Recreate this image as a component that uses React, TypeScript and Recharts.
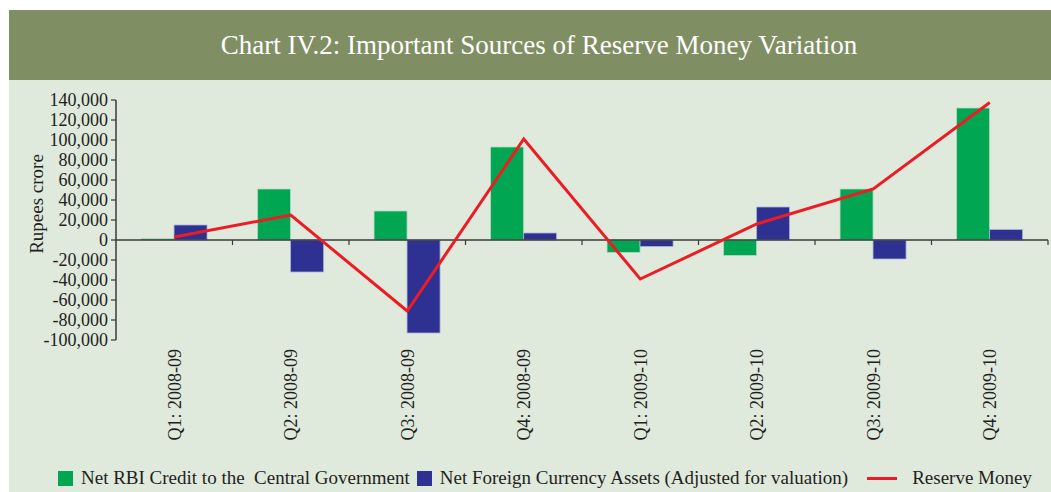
import React from 'react';
import { ComposedChart, Bar, Line, XAxis, YAxis, ReferenceLine } from 'recharts';

const quarters = [
  'Q1: 2008-09',
  'Q2: 2008-09',
  'Q3: 2008-09',
  'Q4: 2008-09',
  'Q1: 2009-10',
  'Q2: 2009-10',
  'Q3: 2009-10',
  'Q4: 2009-10',
];
const netRbiCredit = [1200, 51000, 29000, 93000, -12500, -15500, 51000, 132000];
const netForeignAssets = [15000, -32000, -93000, 7000, -6500, 33000, -19000, 10500];
const reserveMoney = [3000, 25000, -71000, 101000, -39000, 16000, 51000, 137500];
const yTicks = [-100000, -80000, -60000, -40000, -20000, 0, 20000, 40000, 60000, 80000, 100000, 120000, 140000];

const seriesNames = {
  rbi: 'Net RBI Credit to the\u00a0\u00a0Central Government',
  fca: 'Net Foreign Currency Assets (Adjusted for valuation)',
  rm: 'Reserve Money',
};

const GREEN = '#00a651';
const BLUE = '#2e3192';
const RED = '#ed1c24';
const FONT = '"Liberation Serif", serif';

const data = quarters.map((q, i) => ({
  quarter: q,
  rbi: netRbiCredit[i],
  fca: netForeignAssets[i],
  rm: reserveMoney[i],
}));

const fmt = (v: number) => (v < 0 ? '-' : '') + Math.abs(v).toLocaleString('en-US');

// x labels, rotated, reading bottom to top
const QuarterTick = (props: any) => {
  const { x, y, payload } = props;
  return (
    <text
      x={x}
      y={y}
      transform={`rotate(-90, ${x}, ${y})`}
      textAnchor="end"
      dy="0.35em"
      fontSize={18}
      fontFamily={FONT}
      fill="#231f20"
    >
      {payload.value}
    </text>
  );
};

// zero line with little ticks at the category boundaries
const ZeroLine = (props: any) => {
  const { x1, y1, x2 } = props;
  const step = (x2 - x1) / quarters.length;
  return (
    <g>
      <line x1={x1} y1={y1} x2={x2} y2={y1} stroke="#3a3a3a" strokeWidth={1.5} />
      {quarters.map((_, i) => (
        <line
          key={i}
          x1={x1 + step * (i + 1)}
          x2={x1 + step * (i + 1)}
          y1={y1}
          y2={y1 + 5}
          stroke="#3a3a3a"
          strokeWidth={1.2}
        />
      ))}
    </g>
  );
};

const AxisTitle = (props: any) => {
  const { viewBox } = props;
  const cx = viewBox.x + 36;
  const cy = viewBox.y + viewBox.height / 2 - 16;
  return (
    <text
      x={cx}
      y={cy}
      transform={`rotate(-90, ${cx}, ${cy})`}
      textAnchor="middle"
      dy="0.35em"
      fontSize={19}
      fontFamily={FONT}
      fill="#231f20"
    >
      Rupees crore
    </text>
  );
};

export default function App() {
  return (
    <div style={{ position: 'absolute', left: 0, top: 0, width: 1051, height: 492, background: '#fff', fontFamily: FONT }}>
      <div
        style={{
          position: 'absolute',
          left: 9,
          top: 10,
          width: 1042,
          height: 70,
          background: '#7f8f63',
          color: '#fff',
          fontSize: 27,
          lineHeight: '70px',
          textAlign: 'center',
          textIndent: 18,
        }}
      >
        Chart IV.2: Important Sources of Reserve Money Variation
      </div>
      <div style={{ position: 'absolute', left: 9, top: 80, width: 1042, height: 412, background: '#dfe9dc' }} />
      <div style={{ position: 'absolute', left: 0, top: 0 }}>
        <ComposedChart
          width={1051}
          height={492}
          data={data}
          margin={{ top: 100, right: 3, bottom: 0, left: 0 }}
          barCategoryGap="21.5%"
          barGap={0}
        >
          <XAxis
            dataKey="quarter"
            height={152}
            axisLine={false}
            tickLine={false}
            tickSize={0}
            tickMargin={9}
            interval={0}
            tick={<QuarterTick />}
          />
          <YAxis
            width={116}
            domain={[-100000, 140000]}
            ticks={yTicks}
            interval={0}
            tickFormatter={fmt}
            axisLine={{ stroke: '#3a3a3a', strokeWidth: 1.5 }}
            tickLine={{ stroke: '#3a3a3a', strokeWidth: 1.2 }}
            tickSize={5}
            tickMargin={3}
            tick={{ fontSize: 18, fontFamily: FONT, fill: '#231f20' }}
            label={<AxisTitle />}
          />
          <Bar dataKey="rbi" name={seriesNames.rbi} fill={GREEN} stroke="#b9d6c4" strokeWidth={0.8} isAnimationActive={false} />
          <Bar dataKey="fca" name={seriesNames.fca} fill={BLUE} stroke="#aab4d8" strokeWidth={0.8} isAnimationActive={false} />
          <ReferenceLine y={0} shape={<ZeroLine />} ifOverflow="extendDomain" />
          <Line
            type="linear"
            dataKey="rm"
            name={seriesNames.rm}
            stroke={RED}
            strokeWidth={3}
            dot={false}
            activeDot={false}
            isAnimationActive={false}
          />
        </ComposedChart>
      </div>
      <div
        style={{
          position: 'absolute',
          left: 58,
          top: 466,
          height: 24,
          display: 'flex',
          alignItems: 'center',
          fontSize: 19,
          color: '#231f20',
          whiteSpace: 'pre',
        }}
      >
        <span style={{ width: 15, height: 15, background: GREEN, display: 'inline-block', marginRight: 8 }} />
        <span>{seriesNames.rbi}</span>
        <span style={{ width: 15, height: 15, background: BLUE, display: 'inline-block', marginLeft: 7, marginRight: 8 }} />
        <span>{seriesNames.fca}</span>
        <span style={{ width: 30, height: 3, background: RED, display: 'inline-block', marginLeft: 19, marginRight: 15 }} />
        <span>{seriesNames.rm}</span>
      </div>
    </div>
  );
}
